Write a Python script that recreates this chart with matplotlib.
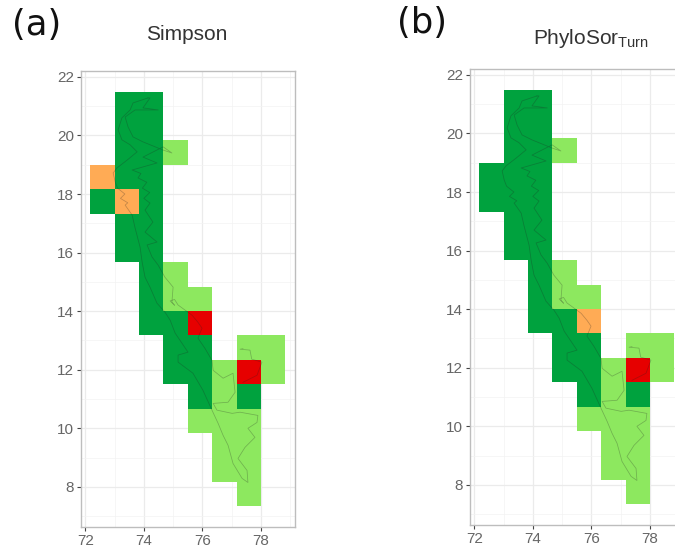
# Simpson and PhyloSor turnover maps over the Western Ghats grid

import matplotlib
matplotlib.use("Agg")
import matplotlib.pyplot as plt
import numpy as np
from matplotlib.colors import ListedColormap

plt.rcParams["font.family"] = ["Liberation Sans", "DejaVu Sans"]
plt.rcParams["mathtext.default"] = "regular"

lon_edges = [72.17, 73.0, 73.83, 74.67, 75.5, 76.33, 77.17, 78.0, 78.83]
lat_edges = [21.5, 20.67, 19.83, 19.0, 18.17, 17.33, 16.5, 15.67, 14.83, 14.0,
             13.17, 12.33, 11.5, 10.67, 9.83, 9.0, 8.17, 7.33]

# 0 = no cell, 1 = dark green, 2 = light green, 3 = orange, 4 = red
simpson = [
    [0, 1, 1, 0, 0, 0, 0, 0],
    [0, 1, 1, 0, 0, 0, 0, 0],
    [0, 1, 1, 2, 0, 0, 0, 0],
    [3, 1, 1, 0, 0, 0, 0, 0],
    [1, 3, 1, 0, 0, 0, 0, 0],
    [0, 1, 1, 0, 0, 0, 0, 0],
    [0, 1, 1, 0, 0, 0, 0, 0],
    [0, 0, 1, 2, 0, 0, 0, 0],
    [0, 0, 1, 2, 2, 0, 0, 0],
    [0, 0, 1, 1, 4, 0, 0, 0],
    [0, 0, 0, 1, 1, 0, 2, 2],
    [0, 0, 0, 1, 1, 2, 4, 2],
    [0, 0, 0, 0, 1, 2, 1, 0],
    [0, 0, 0, 0, 2, 2, 2, 0],
    [0, 0, 0, 0, 0, 2, 2, 0],
    [0, 0, 0, 0, 0, 2, 2, 0],
    [0, 0, 0, 0, 0, 0, 2, 0],
]
phylosor = [
    [0, 1, 1, 0, 0, 0, 0, 0],
    [0, 1, 1, 0, 0, 0, 0, 0],
    [0, 1, 1, 2, 0, 0, 0, 0],
    [1, 1, 1, 0, 0, 0, 0, 0],
    [1, 1, 1, 0, 0, 0, 0, 0],
    [0, 1, 1, 0, 0, 0, 0, 0],
    [0, 1, 1, 0, 0, 0, 0, 0],
    [0, 0, 1, 2, 0, 0, 0, 0],
    [0, 0, 1, 2, 2, 0, 0, 0],
    [0, 0, 1, 1, 3, 0, 0, 0],
    [0, 0, 0, 1, 1, 0, 2, 2],
    [0, 0, 0, 1, 1, 2, 4, 2],
    [0, 0, 0, 0, 1, 2, 1, 0],
    [0, 0, 0, 0, 2, 2, 2, 0],
    [0, 0, 0, 0, 0, 2, 2, 0],
    [0, 0, 0, 0, 0, 2, 2, 0],
    [0, 0, 0, 0, 0, 0, 2, 0],
]

# outline
outline_lon = [74.14, 73.63, 73.53, 73.25, 73.12, 73.25, 73.53, 73.77, 73.43, 73.08,
               72.95, 73.02, 73.10, 73.35, 73.20, 73.45, 73.36, 73.60, 73.70, 73.87,
               73.94, 74.04, 74.21, 74.45, 74.72, 74.90, 75.07, 75.51, 75.17, 75.17,
               75.68, 76.02, 76.33, 76.54, 76.71, 76.88, 77.05, 77.36, 77.56, 77.53,
               77.22, 77.46, 77.80, 77.56, 77.87, 77.90, 77.29, 77.02, 76.50, 76.37,
               76.88, 77.12, 77.05, 76.71, 76.37, 76.33, 76.09, 75.85, 75.99, 75.85,
               75.65, 75.17, 75.05, 74.90, 75.05, 74.96, 75.00, 74.72, 74.49, 74.28,
               74.11, 74.45, 74.04, 74.31, 74.04, 74.21, 74.00, 74.20, 73.95, 74.10,
               73.80, 73.90, 73.60, 74.45, 73.97, 74.66, 74.96, 74.66, 73.97, 73.63,
               73.46, 73.36, 73.70, 74.49, 73.97, 74.21, 74.14]
outline_lat = [21.28, 21.11, 20.87, 20.60, 20.19, 19.85, 19.68, 19.44, 19.16, 18.89,
               18.72, 18.41, 18.20, 18.00, 17.85, 17.70, 17.62, 17.28, 16.84, 16.19,
               15.68, 15.16, 14.82, 14.27, 13.97, 13.69, 13.25, 12.60, 12.50, 12.26,
               11.88, 11.30, 10.62, 10.17, 9.76, 9.42, 8.80, 8.29, 8.15, 8.56,
               8.97, 9.35, 9.69, 10.00, 10.20, 10.44, 10.55, 10.51, 10.62, 10.85,
               10.89, 11.23, 11.88, 11.71, 11.98, 12.32, 12.73, 13.08, 13.42, 13.62,
               13.86, 14.21, 14.40, 14.35, 14.20, 14.31, 14.82, 15.16, 15.57, 15.85,
               16.26, 16.36, 16.70, 17.04, 17.45, 17.69, 17.85, 18.05, 18.20, 18.40,
               18.55, 18.70, 18.82, 19.06, 19.26, 19.61, 19.40, 19.50, 19.78, 19.95,
               20.29, 20.63, 20.87, 20.87, 20.94, 21.28, 21.28]
east_lon = [77.39, 77.29, 77.63, 77.69, 78.04, 77.87, 77.39]
east_lat = [12.72, 12.70, 12.67, 12.36, 12.26, 11.81, 11.57]

x_ticks = [72, 74, 76, 78]
y_ticks = [8, 10, 12, 14, 16, 18, 20, 22]

cell_colors = ["#00a23e", "#8de85f", "#ffab55", "#e60000"]
cmap = ListedColormap(cell_colors)

W, H = 675, 552
fig = plt.figure(figsize=(W / 100, H / 100), dpi=100)


def draw_panel(left_px, top_px, grid, title, title_px, tag, tag_px):
    ax = fig.add_axes([left_px / W, 1 - (top_px + 456) / H, 214 / W, 456 / H])
    values = np.ma.masked_equal(np.array(grid), 0)
    ax.pcolormesh(lon_edges, lat_edges, values, cmap=cmap, vmin=0.5, vmax=4.5, zorder=2)
    ax.plot(outline_lon, outline_lat, color="#222222", alpha=0.28, lw=0.55, zorder=3)
    ax.plot(east_lon, east_lat, color="#222222", alpha=0.28, lw=0.55, zorder=3)
    ax.set_xlim(71.85, 79.17)
    ax.set_ylim(6.63, 22.2)
    ax.set_xticks(x_ticks)
    ax.set_yticks(y_ticks)
    ax.set_xticks([73, 75, 77, 79], minor=True)
    ax.set_yticks([7, 9, 11, 13, 15, 17, 19, 21], minor=True)
    ax.grid(which="major", color="#ebebeb", lw=0.9, zorder=1)
    ax.grid(which="minor", color="#f3f3f3", lw=0.5, zorder=1)
    ax.set_axisbelow(True)
    ax.tick_params(which="major", length=3.2, width=0.8, color="#444444",
                   labelcolor="#666666", labelsize=11, pad=2)
    ax.tick_params(which="minor", length=0)
    for spine in ax.spines.values():
        spine.set_color("#bdbdbd")
        spine.set_linewidth(1.0)
    fig.text(title_px[0] / W, 1 - title_px[1] / H, title, fontsize=15, color="#333333",
             ha="center", va="center")
    fig.text(tag_px[0] / W, 1 - tag_px[1] / H, tag, fontsize=25.5, color="#111111",
             family="DejaVu Sans", ha="center", va="center")
    return ax


draw_panel(81, 71, simpson, "Simpson", (187, 35), "(a)", (37, 25))
draw_panel(470, 69, phylosor, "PhyloSor$_{Turn}$", (591, 38), "(b)", (422, 23))

fig.savefig("out.png", dpi=100)
